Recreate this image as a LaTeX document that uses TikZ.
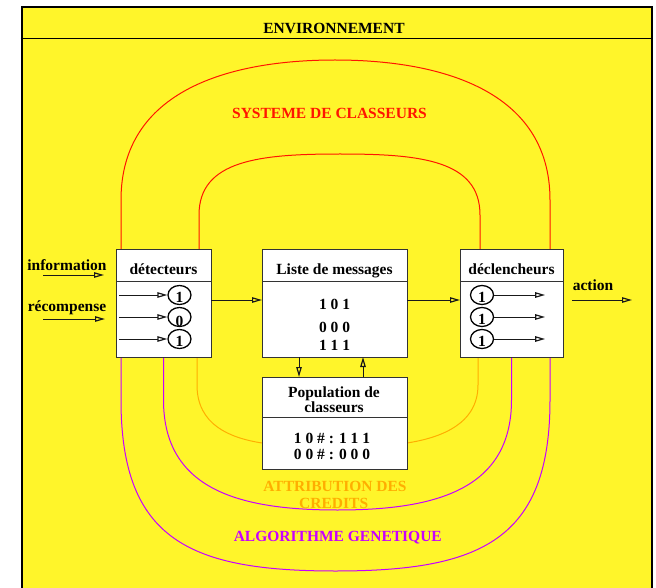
\documentclass[tikz,border=0pt]{standalone}
\usepackage{fontspec}
\setmainfont{Liberation Serif}
\usetikzlibrary{arrows.meta,positioning,shapes.geometric,backgrounds}
\definecolor{envbg}{HTML}{FFF52A}
\definecolor{cfred}{HTML}{FF1400}
\definecolor{cforange}{HTML}{FFAE00}
\definecolor{cfpurple}{HTML}{C800FF}
\definecolor{boxline}{HTML}{333333}
% a digit dropped a little inside its ring
\newcommand{\lowbit}[2]{\raisebox{#1}[0pt][0pt]{#2}}
\tikzset{
  txt/.style={anchor=base, font=\fontsize{15.5}{16}\selectfont\bfseries},
  cellbox/.style={draw=boxline, fill=white, line width=1pt, outer sep=0pt},
  bit/.style={ellipse, draw=black, line width=1.3pt, minimum width=23pt,
    minimum height=19pt, inner sep=0pt, font=\fontsize{15.5}{16}\selectfont\bfseries},
  flow/.style={draw=black!90, line width=1pt,
    -{Triangle[open, length=10pt, width=5.5pt, line width=1.2pt]}},
  loopline/.style={line width=1pt},
}
\begin{document}
\begin{tikzpicture}[x=1pt, y=-1pt, every node/.style={inner sep=0pt}]

\useasboundingbox (0,0) rectangle (656,588);

% the four boxes (header + body)
\node[cellbox, minimum width=95pt, minimum height=31pt] (deth) at (163.5,265.5) {};
\node[cellbox, minimum width=95pt, minimum height=76pt, below=0pt of deth] (detb) {};
\node[cellbox, minimum width=145pt, minimum height=31pt] (listh) at (334.5,265.5) {};
\node[cellbox, minimum width=145pt, minimum height=76pt, below=0pt of listh] (listb) {};
\node[cellbox, minimum width=145pt, minimum height=40pt] (poph) at (334.5,397) {};
\node[cellbox, minimum width=145pt, minimum height=52pt, below=0pt of poph] (popb) {};
\node[cellbox, minimum width=103pt, minimum height=31pt] (declh) at (511.5,265.5) {};
\node[cellbox, minimum width=103pt, minimum height=76pt, below=0pt of declh] (declb) {};

% environment frame and the loops, kept under the boxes
\begin{scope}[on background layer]
\fill[envbg] (22,7) rectangle (652,592);
\draw[line width=1.5pt] (22,592) -- (22,7) -- (652,7) -- (652,592);
\draw[line width=1.5pt] (20.5,38.5) -- (652,38.5);
\draw[loopline, cfred] ([xshift=-42.5pt]deth.north) -- (121,200)
  .. controls (121,90) and (230,60) .. (335,60)
  .. controls (440,60) and (550,90) .. (550,200)
  -- ([xshift=38.5pt]declh.north);
\draw[loopline, cfred] ([xshift=35.5pt]deth.north) -- (199,215)
  .. controls (199,160) and (260,154) .. (340,154)
  .. controls (420,154) and (480,160) .. (480,215)
  -- ([xshift=-31.5pt]declh.north);
\draw[loopline, cforange] ([xshift=33.5pt]detb.south) -- (197,385)
  .. controls (197,425) and (230,438) .. (popb.west);
\draw[loopline, cforange] (popb.east)
  .. controls (439,438) and (478,425) .. (478,385)
  -- ([xshift=-33.5pt]declb.south);
\draw[loopline, cfpurple] (detb.south) -- (163.5,400)
  .. controls (163.5,490) and (240,510) .. (337.5,510)
  .. controls (435,510) and (511.5,490) .. (511.5,400)
  -- (declb.south);
\draw[loopline, cfpurple] ([xshift=-42.5pt]detb.south) -- (121,400)
  .. controls (121,540) and (190,571) .. (335.5,571)
  .. controls (481,571) and (550,540) .. (550,400)
  -- ([xshift=38.5pt]declb.south);
\end{scope}

\node[txt] (env) at (334,33.3) {ENVIRONNEMENT};

% titles
\node[txt] (dett) at (163.5,274) {détecteurs};
\node[txt] (listt) at (334.5,274) {Liste de messages};
\node[txt] (declt) at (511.5,274) {déclencheurs};
\node[txt] (popt1) at (334,397) {Population de};
\node[txt] (popt2) at (334,412) {classeurs};

% messages and classifiers
\node[txt] (msg1) at (334.5,309) {1 0 1};
\node[txt] (msg2) at (334.5,332) {0 0 0};
\node[txt] (msg3) at (334.5,350) {1 1 1};
\node[txt] (cl1) at (332,443.3) {1 0 \# : 1 1 1};
\node[txt] (cl2) at (332,459) {0 0 \# : 0 0 0};

% detector and effector bits
\node[bit] (d1) at (179.5,295) {\lowbit{-7.5pt}{1}};
\node[bit] (d2) at (179.5,317) {\lowbit{-9.5pt}{0}};
\node[bit] (d3) at (179.5,339) {\lowbit{-7.5pt}{1}};
\node[bit] (c1) at (482,295) {\lowbit{-7.5pt}{1}};
\node[bit] (c2) at (482,317) {\lowbit{-7.5pt}{1}};
\node[bit] (c3) at (482,339) {\lowbit{-7.5pt}{1}};
\foreach \d in {d1,d2,d3}
  \draw[flow] (\d.west) ++(-48,0) -- (\d.west);
\foreach \c in {c1,c2,c3}
  \draw[flow] (\c.east) -- ++(51,0);

% flow between boxes
\draw[flow] ([yshift=19pt]detb.east) -- ([yshift=19pt]listb.west);
\draw[flow] ([yshift=19pt]listb.east) -- ([yshift=19pt]declb.west);
\draw[flow] ([xshift=-35.5pt]listb.south) -- ([xshift=-35.5pt]poph.north);
\draw[flow] ([xshift=28.5pt]poph.north) -- ([xshift=28.5pt]listb.south);

% inputs and output
\node[txt] (info) at (67,270) {information};
\node[txt] (recomp) at (67,311.7) {récompense};
\coordinate (infoS) at (43,275);
\coordinate (infoE) at (104,275);
\coordinate (recS) at (43,319);
\coordinate (recE) at (105,319);
\draw[flow] (infoS) -- (infoE);
\draw[flow] (recS) -- (recE);
\node[txt] (act) at (593,290.7) {action};
\coordinate (actE) at (632,300);
\draw[flow] ([xshift=9pt,yshift=19pt]declb.east) -- (actE);

% loop labels
\node[txt, text=cfred] (sys) at (329.5,118.3) {SYSTEME DE CLASSEURS};
\node[txt, text=cforange] (cred1) at (335,491.7) {ATTRIBUTION DES};
\node[txt, text=cforange] (cred2) at (333.7,508.3) {CREDITS};
\node[txt, text=cfpurple] (algo) at (337.8,541) {ALGORITHME GENETIQUE};

\end{tikzpicture}
\end{document}
